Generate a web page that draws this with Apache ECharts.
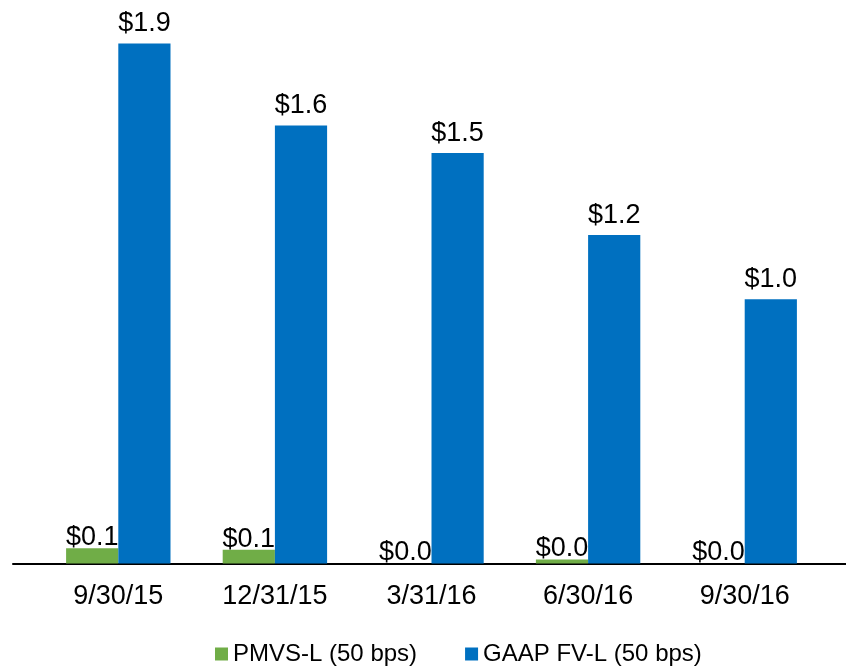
<!DOCTYPE html>
<html><head><meta charset="utf-8">
<script src="https://cdn.jsdelivr.net/npm/echarts@6/dist/echarts.min.js"></script>
<style>html,body{margin:0;padding:0;background:#fff}#c{width:846px;height:668px}</style>
</head><body><div id="c"></div>
<script>
var categories = ['9/30/15', '12/31/15', '3/31/16', '6/30/16', '9/30/16'];
var pmvsValues = [0.056, 0.05, 0, 0.015, 0];
var gaapValues = [1.90, 1.60, 1.50, 1.20, 0.965];
var seriesNames = ['PMVS-L (50 bps)', 'GAAP FV-L (50 bps)'];

var FONT = '"Liberation Sans", Arial, sans-serif';
var chart = echarts.init(document.getElementById('c'));
function fmt(p){ return '$' + p.value.toFixed(1); }
chart.setOption({
  animation: false,
  backgroundColor: '#fff',
  textStyle: { fontFamily: FONT },
  legend: {
    left: 215, top: 642, padding: 0,
    icon: 'rect', itemWidth: 13, itemHeight: 13, itemGap: 48,
    textStyle: { fontSize: 24, color: '#000', fontFamily: FONT },
    data: seriesNames
  },
  grid: [
    { left: 40, right: 23, top: 16, bottom: 104.5 },
    { left: 13, right: 0, top: 16, bottom: 104.5 }
  ],
  xAxis: [
    { type: 'category', gridIndex: 0, data: categories,
      axisLine: { show: false }, axisTick: { show: false },
      axisLabel: { fontSize: 27, color: '#000', margin: 20, fontFamily: FONT } },
    { type: 'value', gridIndex: 1, min: 0, max: 1, position: 'bottom',
      axisLine: { show: true, onZero: false, lineStyle: { color: '#000', width: 2 } },
      axisTick: { show: false }, axisLabel: { show: false }, splitLine: { show: false } }
  ],
  yAxis: [
    { type: 'value', gridIndex: 0, min: 0, max: 2.0, show: false, splitLine: { show: false } },
    { type: 'value', gridIndex: 1, min: 0, max: 1, show: false, splitLine: { show: false } }
  ],
  series: [
    { name: seriesNames[0], type: 'bar', data: pmvsValues, xAxisIndex: 0, yAxisIndex: 0,
      barGap: '0%', barCategoryGap: '33.33%',
      itemStyle: { color: '#70AD47' },
      label: { show: true, position: 'top', distance: -3, formatter: fmt,
        fontSize: 27, color: '#000', fontFamily: FONT } },
    { name: seriesNames[1], type: 'bar', data: gaapValues, xAxisIndex: 0, yAxisIndex: 0,
      barGap: '0%', barCategoryGap: '33.33%',
      itemStyle: { color: '#0070C0' },
      label: { show: true, position: 'top', distance: 6, formatter: fmt,
        fontSize: 27, color: '#000', fontFamily: FONT } }
  ]
});
</script></body></html>
